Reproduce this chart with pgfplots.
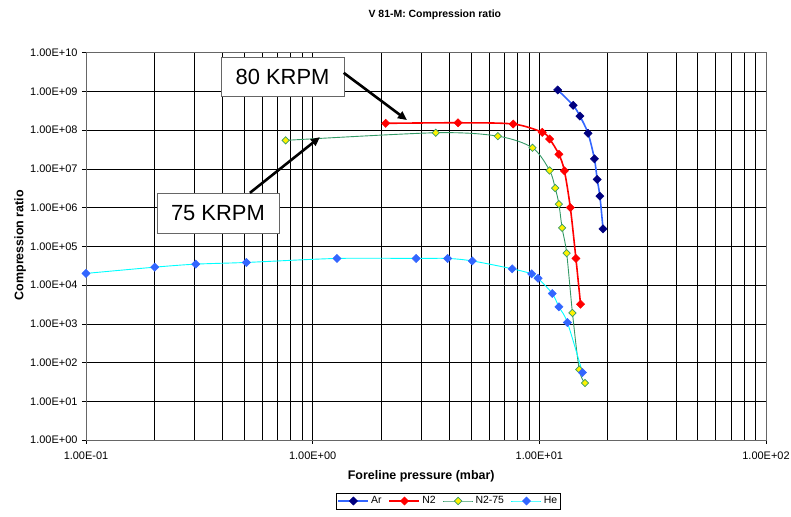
\documentclass[border=0pt]{standalone}
\usepackage{pgfplots}
\pgfplotsset{compat=1.18}
\usepackage{fontspec}
\setmainfont{Liberation Sans}
\usetikzlibrary{arrows.meta}

\definecolor{arline}{RGB}{51,102,255}
\definecolor{armark}{RGB}{0,0,128}
\definecolor{ngreen}{RGB}{51,153,102}
\definecolor{heline}{RGB}{0,255,255}
\definecolor{hemark}{RGB}{51,102,255}

\begin{document}
\begin{tikzpicture}[x=1bp,y=1bp]
\useasboundingbox (-86,-77) rectangle (705,440);
\begin{axis}[at={(0,0)}, anchor=south west, scale only axis,
  width=680bp, height=387.3bp,
  xmode=log, ymode=log, log basis x=10, log basis y=10,
  xmin=0.1, xmax=100, ymin=1, ymax=1e10,
  xtick={0.1,1,10,100},
  xticklabels={1.00E-01,1.00E+00,1.00E+01,1.00E+02},
  minor xtick={0.2,0.3,0.4,0.5,0.6,0.7,0.8,0.9,2,3,4,5,6,7,8,9,20,30,40,50,60,70,80,90},
  ytick={1,10,100,1000,1e4,1e5,1e6,1e7,1e8,1e9,1e10},
  yticklabels={1.00E+00,1.00E+01,1.00E+02,1.00E+03,1.00E+04,1.00E+05,1.00E+06,1.00E+07,1.00E+08,1.00E+09,1.00E+10},
  yminorticks=false,
  xmajorgrids=true, xminorgrids=true, ymajorgrids=true,
  major grid style={black, line width=0.6bp},
  minor grid style={black, line width=0.6bp},
  tick align=outside, major tick length=4bp, minor tick length=0pt,
  tick style={black, line width=0.6bp},
  xtick pos=bottom, ytick pos=left,
  axis line style={black!60, line width=0.8bp},
  ticklabel style={font=\fontsize{11}{13}\selectfont},
  xticklabel style={yshift=-4bp},
  yticklabel style={xshift=-1bp},
  xlabel={Foreline pressure (mbar)},
  xlabel style={at={(rel axis cs:0.493,-0.093)}, anchor=center, font=\bfseries\fontsize{12.5}{14}\selectfont},
  ylabel={Compression ratio},
  ylabel style={at={(rel axis cs:-0.097,0.503)}, anchor=center, font=\bfseries\fontsize{12.5}{14}\selectfont},
  clip=false,
  legend columns=4,
  legend style={at={(rel axis cs:0.533,-0.1575)}, anchor=center, draw=black, line width=0.6bp,
    font=\fontsize{10.5}{12}\selectfont, inner sep=1.5bp,
    /tikz/every even column/.append style={column sep=5bp}},
  legend image code/.code={\draw[mark repeat=2,mark phase=2] plot coordinates {(0bp,0bp) (15bp,0bp) (30bp,0bp)};},
]
\addplot[color=arline, line width=1.6bp, smooth, mark=square*, mark size=2.9bp,
  mark options={rotate=45, fill=armark, draw=armark, line width=0.5bp}] coordinates {
  (12.05,1.09e9) (14.1,4.37e8) (15.1,2.31e8) (16.4,8.3e7) (17.5,1.82e7)
  (18.0,5.35e6) (18.5,1.98e6) (19.1,2.83e5)};
\addlegendentry{Ar}
\addplot[color=red, line width=1.6bp, smooth, mark=square*, mark size=2.9bp,
  mark options={rotate=45, fill=red, draw=red, line width=0.5bp}] coordinates {
  (2.10,1.5e8) (4.38,1.55e8) (7.67,1.44e8) (10.3,8.8e7) (11.1,5.9e7)
  (12.2,2.37e7) (12.9,8.9e6) (13.7,1.0e6) (14.5,4.87e4) (15.2,3.2e3)};
\addlegendentry{N2}
\addplot[color=ngreen, line width=0.9bp, smooth, mark=square*, mark size=2.6bp,
  mark options={rotate=45, fill=yellow, draw=ngreen, line width=0.7bp}] coordinates {
  (0.76,5.45e7) (3.49,8.57e7) (6.56,7.0e7) (9.33,3.5e7) (11.1,9.1e6)
  (11.75,3.19e6) (12.2,1.23e6) (12.6,3.0e5) (13.2,6.67e4) (14.0,1.91e3)
  (15.0,65.9) (15.9,29.7)};
\addlegendentry{N2-75}
\addplot[color=heline, line width=0.9bp, smooth, mark=square*, mark size=2.9bp,
  mark options={rotate=45, fill=hemark, draw=hemark, line width=0.5bp}] coordinates {
  (0.1,2.0e4) (0.201,2.9e4) (0.305,3.47e4) (0.51,3.84e4) (1.28,4.87e4)
  (2.86,4.87e4) (3.94,4.87e4) (5.06,4.2e4) (7.59,2.63e4) (9.25,1.95e4)
  (9.87,1.5e4) (11.4,6.07e3) (12.2,2.74e3) (13.3,1.08e3) (15.5,55.2)};
\addlegendentry{He}
\node[font=\bfseries\fontsize{10.5}{12}\selectfont] at (rel axis cs:0.513,1.097) {V 81-M: Compression ratio};
\node[draw=black!60, fill=white, line width=0.8bp, minimum width=123bp, minimum height=39bp,
  font=\fontsize{22}{26}\selectfont] at (rel axis cs:0.289,0.9386) (b80) {80 KRPM};
\draw[-{Triangle[length=9bp,width=8bp]}, line width=2.6bp] (rel axis cs:0.379,0.948) -- (rel axis cs:0.472,0.826);
\node[draw=black!60, fill=white, line width=0.8bp, minimum width=122bp, minimum height=40bp,
  font=\fontsize{22}{26}\selectfont] at (rel axis cs:0.194,0.586) (b75) {75 KRPM};
\draw[-{Triangle[length=9bp,width=8bp]}, line width=2.6bp] (rel axis cs:0.241,0.638) -- (rel axis cs:0.344,0.782);
\end{axis}
\end{tikzpicture}
\end{document}
